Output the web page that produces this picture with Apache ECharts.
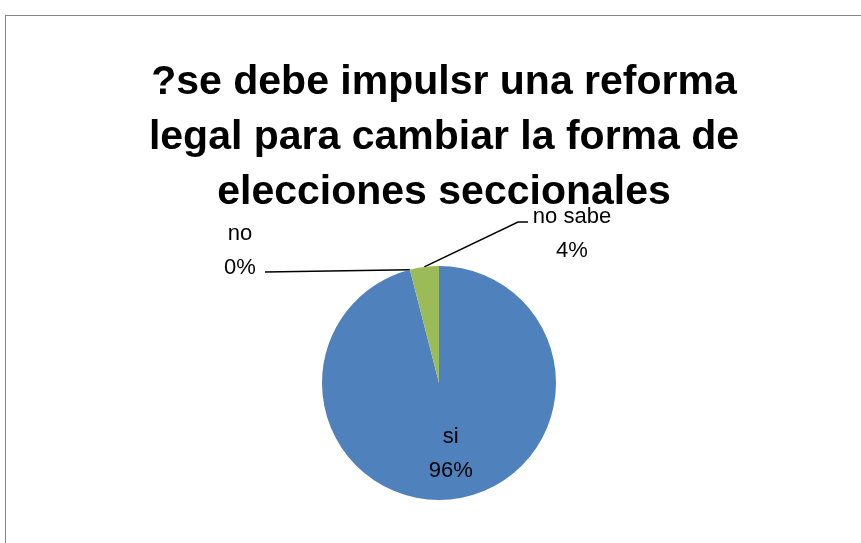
<!DOCTYPE html>
<html>
<head>
<meta charset="utf-8">
<script src="https://cdn.jsdelivr.net/npm/echarts@6/dist/echarts.min.js"></script>
<style>
  html, body { margin: 0; padding: 0; overflow: hidden; background: #fff; }
  #frame { position: absolute; left: 5px; top: 15px; width: 900px; height: 600px; border: 1px solid #868686; }
  #chart { position: absolute; left: 0; top: 0; width: 861px; height: 543px; }
</style>
</head>
<body>
<div id="frame"></div>
<div id="chart"></div>
<script>
const categories = ['si', 'no', 'no sabe']
const values = [96, 0, 4]
const colors = ['#4F81BD', '#C0504D', '#9BBB59']
const titleText = '?se debe impulsr una reforma\nlegal para cambiar la forma de\nelecciones seccionales'

// where the outside labels sit, by data index, plus leader line bends (relative to the label)
const labelSpots = {
  1: { x: 240, y: 251, bend: [[25, 21]] },
  2: { x: 572, y: 234, bend: [[-54, -12], [-44, -12]] }
}

const chart = echarts.init(document.getElementById('chart'))

const option = {
  animation: false,
  title: {
    text: titleText,
    left: 439,
    top: 50,
    textAlign: 'center',
    textStyle: {
      fontFamily: 'Liberation Sans',
      fontSize: 41,
      fontWeight: 'bold',
      lineHeight: 55,
      color: '#000'
    }
  },
  series: [
    {
      type: 'pie',
      center: [439, 383],
      radius: 117,
      startAngle: 90,
      clockwise: true,
      avoidLabelOverlap: false,
      label: {
        formatter: '{b}\n{d}%',
        fontFamily: 'Liberation Sans',
        fontSize: 22,
        lineHeight: 34,
        color: '#000'
      },
      labelLine: {
        lineStyle: { color: '#000', width: 1.5 }
      },
      labelLayout: (params) => {
        const spot = labelSpots[params.dataIndex]
        if (!spot) return {}
        const out = { x: spot.x, y: spot.y, align: 'center', verticalAlign: 'middle' }
        if (params.labelLinePoints) {
          const start = params.labelLinePoints[0]
          const pts = [start].concat(spot.bend.map((b) => [spot.x + b[0], spot.y + b[1]]))
          while (pts.length < 3) pts.push(pts[pts.length - 1])
          out.labelLinePoints = pts
        }
        return out
      },
      data: categories.map((name, i) => ({
        name: name,
        value: values[i],
        itemStyle: { color: colors[i] },
        label: i === 0
          ? { position: 'inside', offset: [4, 10] }
          : { position: 'outside' },
        labelLine: { show: i !== 0, length: 10, length2: 10 }
      }))
    }
  ]
}

chart.setOption(option)
</script>
</body>
</html>
